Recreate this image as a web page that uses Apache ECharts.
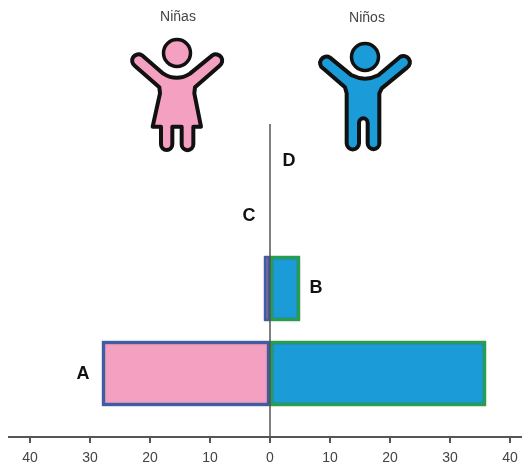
<!DOCTYPE html>
<html>
<head>
<meta charset="utf-8">
<style>html,body{margin:0;padding:0;background:#fff}#c{width:522px;height:466px}</style>
<script src="https://cdn.jsdelivr.net/npm/echarts@6/dist/echarts.min.js"></script>
</head>
<body>
<div id="c"></div>
<script>
const categories = ['A', 'B', 'C', 'D'];
const ninas = [-28, -1, 0, 0];
const ninos = [36, 5, 0, 0];
const groupLabels = ['Niñas', 'Niños'];

const FONT = '"Liberation Sans", Arial, sans-serif';
const AXIS = '#555';
const girlPath = 'M126 166 L190 221 Q230 246 270 221 L337 166 A19 19 0 0 1 358 198 L285 262 L283 280 L303 380 L280 380 L280 433 A17.5 17.5 0 0 1 245 433 L245 380 L217 380 L217 433 A17 17 0 0 1 183 433 L183 380 L158 380 L180 280 L178 262 L105 198 A19 19 0 0 1 126 166 Z';
const boyPath = 'M690 173 L755 226 Q795 246 835 226 L900 171 A19 19 0 0 1 921 203 L845 265 L838 280 L838 430 A17.5 17.5 0 0 1 803 430 L803 368 A13 13 0 0 0 777 368 L777 430 A18.5 18.5 0 0 1 740 430 L740 280 L735 262 L669 205 A19 19 0 0 1 690 173 Z';
echarts.graphic.registerShape('girlIcon', echarts.graphic.extendPath(girlPath, {}));
echarts.graphic.registerShape('boyIcon', echarts.graphic.extendPath(boyPath, {}));

function lineG(x1, y1, x2, y2, w, z) {
  return { type: 'line', z: z, silent: true, shape: { x1, y1, x2, y2 }, style: { stroke: AXIS, lineWidth: w } };
}
function textG(t, x, y, size, weight, color) {
  return { type: 'text', z: 20, silent: true, x, y, style: { text: t, fontFamily: FONT, fontSize: size, fontWeight: weight, fill: color, align: 'center', verticalAlign: 'middle' } };
}
function iconG(type, fill) {
  return { type, z: 20, silent: true, x: 100, y: 0, scaleX: 1 / 3, scaleY: 1 / 3, style: { fill, stroke: '#111', lineWidth: 12, lineJoin: 'round' } };
}
function headG(cx, cy, r, fill) {
  return { type: 'circle', z: 20, silent: true, shape: { cx, cy, r }, style: { fill, stroke: '#111', lineWidth: 3.5 } };
}
// Empty groups keep their zero value but draw no outline.
function barItems(values) {
  return values.map(v => ({
    value: v,
    itemStyle: v === 0 ? { borderWidth: 0, shadowBlur: 0 } : (Math.abs(v) === 1 ? { color: '#7A6DB5', borderWidth: 2 } : {})
  }));
}

const chart = echarts.init(document.getElementById('c'), null, { renderer: 'canvas' });
chart.setOption({
  animation: false,
  backgroundColor: '#fff',
  grid: { left: 30, width: 480, top: 76, height: 340 },
  xAxis: {
    type: 'value', min: -40, max: 40, interval: 10, offset: 21,
    position: 'bottom',
    axisLine: { show: true, onZero: false, lineStyle: { color: AXIS, width: 2 } },
    axisTick: { show: true, length: 6, lineStyle: { color: AXIS, width: 2 } },
    splitLine: { show: false },
    axisLabel: {
      fontFamily: FONT, fontSize: 14, color: '#444', margin: 14, showMinLabel: true, showMaxLabel: true,
      hideOverlap: false, alignMinLabel: 'center', alignMaxLabel: 'center',
      formatter: v => String(Math.abs(v))
    }
  },
  yAxis: { type: 'category', data: categories, show: false },
  series: [
    {
      name: groupLabels[0], type: 'bar', data: barItems(ninas), stack: 'total', barWidth: 65,
      itemStyle: { color: '#F4A0C0', borderColor: '#3F5CA8', borderWidth: 3, shadowBlur: 1.5, shadowColor: '#555' }
    },
    {
      name: groupLabels[1], type: 'bar', data: barItems(ninos), stack: 'total', barWidth: 65,
      itemStyle: { color: '#1B9CD8', borderColor: '#22A050', borderWidth: 3, shadowBlur: 1.5, shadowColor: '#555' }
    }
  ],
  graphic: [
    lineG(8, 437, 522, 437, 2, 5),
    lineG(270, 124, 270, 437, 1.5, 15),
    textG(categories[0], 83, 374, 18, 'bold', '#111'),
    textG(categories[1], 316, 288, 18, 'bold', '#111'),
    textG(categories[2], 249, 216, 18, 'bold', '#111'),
    textG(categories[3], 289, 161, 18, 'bold', '#111'),
    textG(groupLabels[0], 178, 17, 14, 'normal', '#444'),
    textG(groupLabels[1], 367, 18, 14, 'normal', '#444'),
    iconG('girlIcon', '#F4A0C0'),
    iconG('boyIcon', '#1B9CD8'),
    headG(177, 53, 13.5, '#F4A0C0'),
    headG(365, 57, 13.5, '#1B9CD8')
  ]
});
</script>
</body>
</html>
